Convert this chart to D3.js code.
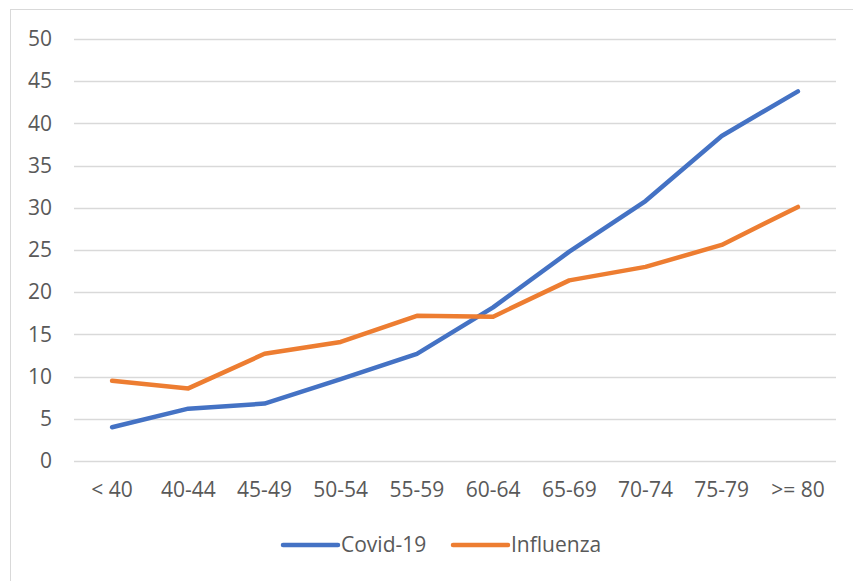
<!DOCTYPE html>
<html>
<head>
<meta charset="utf-8">
<script src="https://cdn.jsdelivr.net/npm/d3@7"></script>
<style>
  body { margin: 0; background: #fff; }
  text { font-family: "Open Sans", "Noto Sans", sans-serif; fill: #595959; }
</style>
</head>
<body>
<svg id="root"></svg>
<script>
const categories = ['< 40', '40-44', '45-49', '50-54', '55-59', '60-64', '65-69', '70-74', '75-79', '>= 80'];
const covidValues = [4.0, 6.2, 6.8, 9.7, 12.7, 18.2, 24.8, 30.8, 38.5, 43.8];
const fluValues = [9.5, 8.6, 12.7, 14.1, 17.2, 17.1, 21.4, 23.0, 25.6, 30.1];
const yTicks = [0, 5, 10, 15, 20, 25, 30, 35, 40, 45, 50];
const seriesNames = ['Covid-19', 'Influenza'];
const seriesColors = ['#4472C4', '#ED7D31'];

const width = 853, height = 581;
const margin = { top: 39, right: 17, bottom: 120, left: 74 };
const fontSize = 21;

const svg = d3.select('#root')
    .attr('width', width)
    .attr('height', height);

// chart frame
svg.append('rect')
    .attr('x', 10.5).attr('y', 9.5)
    .attr('width', 900).attr('height', 700)
    .attr('fill', 'none')
    .attr('stroke', '#d9d9d9');

const xScale = d3.scaleBand()
    .domain(categories)
    .range([margin.left, width - margin.right]);

const yScale = d3.scaleLinear()
    .domain([0, 50])
    .range([height - margin.bottom, margin.top]);

// gridlines
svg.append('g')
    .selectAll('line')
    .data(yTicks)
    .join('line')
    .attr('x1', margin.left)
    .attr('x2', width - margin.right)
    .attr('y1', d => Math.round(yScale(d)) + 0.5)
    .attr('y2', d => Math.round(yScale(d)) + 0.5)
    .attr('stroke', '#d9d9d9')
    .attr('stroke-width', 1.3);

// y labels
const axisY = d3.axisLeft(yScale).tickValues(yTicks).tickSize(0).tickPadding(0);
const gy = svg.append('g')
    .attr('transform', `translate(52, 0)`)
    .call(axisY);
gy.select('.domain').remove();
gy.selectAll('text')
    .attr('font-size', fontSize)
    .attr('font-family', '"Open Sans", sans-serif')
    .attr('fill', '#595959');

// x labels
const axisX = d3.axisBottom(xScale).tickSize(0).tickPadding(0);
const gx = svg.append('g')
    .attr('transform', `translate(0, ${height - margin.bottom + 21})`)
    .call(axisX);
gx.select('.domain').remove();
gx.selectAll('text')
    .attr('font-size', fontSize)
    .attr('font-family', '"Open Sans", sans-serif')
    .attr('fill', '#595959');

const line = d3.line()
    .x((d, i) => xScale(categories[i]) + xScale.bandwidth() / 2)
    .y(d => yScale(d));

[covidValues, fluValues].forEach((vals, k) => {
    svg.append('path')
        .datum(vals)
        .attr('d', line)
        .attr('fill', 'none')
        .attr('stroke', seriesColors[k])
        .attr('stroke-width', 4.5)
        .attr('stroke-linecap', 'round')
        .attr('stroke-linejoin', 'round');
});

// legend
const legendX = [283, 453];
const legend = svg.append('g')
    .selectAll('g')
    .data(seriesNames)
    .join('g')
    .attr('transform', (d, i) => `translate(${legendX[i]}, 545)`);
legend.append('line')
    .attr('x1', 0).attr('x2', 55)
    .attr('stroke', (d, i) => seriesColors[i])
    .attr('stroke-width', 4.5)
    .attr('stroke-linecap', 'round');
legend.append('text')
    .attr('x', 58)
    .attr('dy', '0.35em')
    .attr('font-size', fontSize)
    .text(d => d);
</script>
</body>
</html>
